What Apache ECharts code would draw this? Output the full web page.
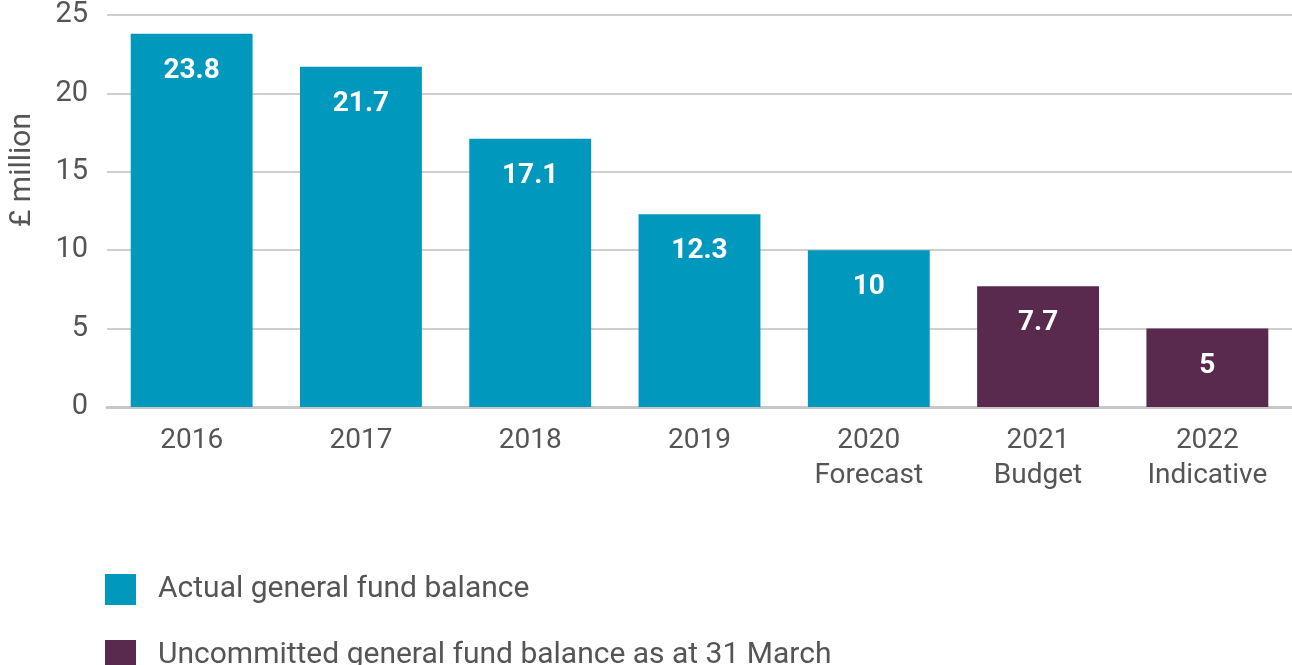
<!DOCTYPE html>
<html>
<head>
<meta charset="utf-8">
<script src="https://cdn.jsdelivr.net/npm/echarts@6/dist/echarts.min.js"></script>
<style>
  html, body { margin: 0; padding: 0; background: #fff; }
  #chart { width: 1292px; height: 665px; }
</style>
</head>
<body>
<div id="chart"></div>
<script>
// chart data
var categories = ["2016", "2017", "2018", "2019", "2020\nForecast", "2021\nBudget", "2022\nIndicative"];
var actualBalance = [23.8, 21.7, 17.1, 12.3, 10, "-", "-"];
var uncommittedBalance = ["-", "-", "-", "-", "-", 7.7, 5];
var seriesNames = ["Actual general fund balance", "Uncommitted general fund balance as at 31 March"];

var chart = echarts.init(document.getElementById("chart"));

var labelStyle = {
    show: true,
    position: "insideTop",
    distance: 23,
    color: "#fff",
    fontWeight: "bold",
    fontSize: 28,
    fontFamily: "Roboto"
};

// one legend per series so they stack vertically
function legendFor(name, top) {
    return {
        left: 100,
        top: top,
        itemWidth: 31,
        itemHeight: 31,
        icon: "rect",
        textStyle: { fontSize: 30, color: "#555", padding: [0, 0, 0, 17] },
        data: [name]
    };
}

chart.setOption({
    animation: false,
    textStyle: { fontFamily: "Roboto" },
    grid: {
        left: 107,
        right: 0,
        top: 15,
        height: 392
    },
    legend: [
        legendFor(seriesNames[0], 569),
        legendFor(seriesNames[1], 635)
    ],
    graphic: [{
        type: "text",
        x: 22,
        y: 170,
        rotation: Math.PI / 2,
        style: {
            text: "£ million",
            fontSize: 30,
            fontFamily: "Roboto",
            fill: "#555",
            align: "center",
            verticalAlign: "middle"
        }
    }],
    xAxis: {
        type: "category",
        data: categories,
        axisTick: { show: false },
        axisLine: { lineStyle: { color: "#c8c8c8", width: 3 } },
        axisLabel: {
            fontSize: 28,
            color: "#555",
            lineHeight: 35,
            margin: 16
        }
    },
    yAxis: {
        type: "value",
        min: 0,
        max: 25,
        interval: 5,
        axisLabel: { fontSize: 29, color: "#555", margin: 19 },
        splitLine: { lineStyle: { color: "#cfcfcf", width: 2 } }
    },
    series: [
        {
            name: seriesNames[0],
            type: "bar",
            stack: "balance",
            barWidth: "72%",
            itemStyle: { color: "#0099bd" },
            label: labelStyle,
            data: actualBalance
        },
        {
            name: seriesNames[1],
            type: "bar",
            stack: "balance",
            barWidth: "72%",
            itemStyle: { color: "#5a2a4e" },
            label: labelStyle,
            data: uncommittedBalance
        }
    ]
});
</script>
</body>
</html>
